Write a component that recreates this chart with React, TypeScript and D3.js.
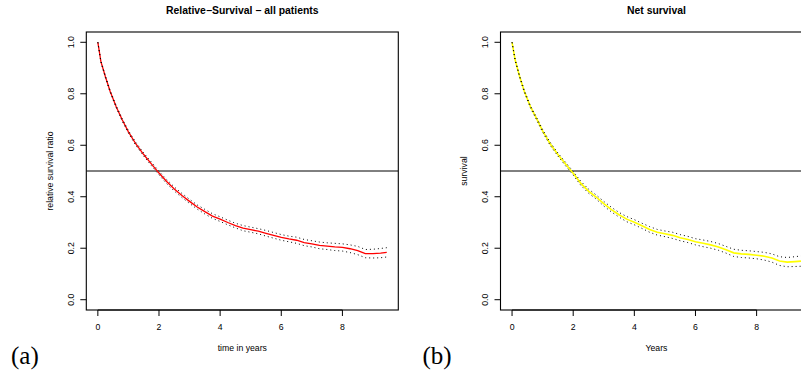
import React from "react";
import * as d3 from "d3";

const times = [0, 0.1, 0.25, 0.4, 0.6, 0.8, 1.0, 1.25, 1.5, 1.75, 2.0, 2.25, 2.5, 2.75, 3.0, 3.25, 3.5, 3.75, 4.0, 4.25, 4.5, 4.75, 5.0, 5.25, 5.5, 5.75, 6.0, 6.25, 6.5, 6.75, 7.0, 7.25, 7.5, 7.75, 8.0, 8.25, 8.5, 8.75, 9.0, 9.25, 9.45];

const relSurv = [1.0, 0.925, 0.865, 0.81, 0.75, 0.698, 0.652, 0.604, 0.564, 0.528, 0.492, 0.459, 0.43, 0.405, 0.382, 0.36, 0.342, 0.325, 0.313, 0.3, 0.288, 0.278, 0.272, 0.266, 0.258, 0.25, 0.242, 0.236, 0.231, 0.222, 0.217, 0.211, 0.208, 0.205, 0.203, 0.198, 0.191, 0.179, 0.179, 0.181, 0.184];
const relLower = [1.0, 0.922, 0.861, 0.806, 0.746, 0.693, 0.647, 0.598, 0.558, 0.521, 0.485, 0.451, 0.422, 0.397, 0.374, 0.352, 0.333, 0.316, 0.304, 0.291, 0.279, 0.268, 0.262, 0.256, 0.247, 0.239, 0.231, 0.225, 0.219, 0.21, 0.205, 0.198, 0.195, 0.191, 0.189, 0.183, 0.175, 0.163, 0.162, 0.163, 0.166];
const relUpper = [1.0, 0.928, 0.869, 0.814, 0.754, 0.703, 0.657, 0.61, 0.57, 0.535, 0.499, 0.467, 0.438, 0.413, 0.39, 0.368, 0.351, 0.334, 0.322, 0.309, 0.297, 0.288, 0.282, 0.276, 0.269, 0.261, 0.253, 0.247, 0.243, 0.234, 0.229, 0.224, 0.221, 0.219, 0.217, 0.213, 0.207, 0.195, 0.196, 0.199, 0.202];

const netSurv = [1.0, 0.932, 0.866, 0.81, 0.75, 0.704, 0.656, 0.605, 0.564, 0.527, 0.491, 0.452, 0.422, 0.399, 0.373, 0.35, 0.33, 0.313, 0.301, 0.287, 0.273, 0.262, 0.256, 0.25, 0.241, 0.234, 0.225, 0.219, 0.213, 0.205, 0.194, 0.182, 0.178, 0.176, 0.173, 0.169, 0.162, 0.15, 0.146, 0.148, 0.15];
const netLower = [1.0, 0.929, 0.862, 0.806, 0.746, 0.699, 0.651, 0.599, 0.558, 0.52, 0.484, 0.444, 0.414, 0.391, 0.364, 0.341, 0.321, 0.303, 0.291, 0.277, 0.262, 0.251, 0.245, 0.238, 0.229, 0.222, 0.213, 0.206, 0.2, 0.192, 0.181, 0.168, 0.164, 0.162, 0.159, 0.154, 0.146, 0.133, 0.128, 0.129, 0.13];
const netUpper = [1.0, 0.935, 0.87, 0.814, 0.754, 0.709, 0.661, 0.611, 0.57, 0.534, 0.498, 0.46, 0.43, 0.407, 0.382, 0.359, 0.339, 0.323, 0.311, 0.297, 0.284, 0.273, 0.267, 0.262, 0.253, 0.246, 0.237, 0.232, 0.226, 0.218, 0.207, 0.196, 0.192, 0.19, 0.187, 0.184, 0.178, 0.167, 0.164, 0.167, 0.17];

const xTicks = [0, 2, 4, 6, 8];
const yTicks = [0.0, 0.2, 0.4, 0.6, 0.8, 1.0];

const SANS = "'Liberation Sans', Arial, Helvetica, sans-serif";
const SERIF = "'Liberation Serif', 'Times New Roman', serif";

type PanelProps = {
  left: number;
  title: string;
  xlab: string;
  ylab: string;
  est: number[];
  lower: number[];
  upper: number[];
  color: string;
  lw: number;
};

function Panel({ left, title, xlab, ylab, est, lower, upper, color, lw }: PanelProps) {
  const top = 32;
  const bottom = 310;
  const width = 312;
  const right = left + width;
  const x = d3.scaleLinear().domain([-0.378, 9.828]).range([left, right]);
  const y = d3.scaleLinear().domain([-0.04, 1.04]).range([bottom, top]);
  const mk = (vals: number[]) =>
    d3
      .line<number>()
      .x((_, i) => x(times[i]))
      .y((v) => y(v))(vals) || "";
  const cx = (left + right) / 2;
  const cy = (top + bottom) / 2;
  const fs = 8.7;
  const clipId = "clip" + Math.round(left);
  return (
    <g>
      <defs>
        <clipPath id={clipId}>
          <rect x={left} y={top} width={width} height={bottom - top} />
        </clipPath>
      </defs>
      <g clipPath={`url(#${clipId})`}>
        <line x1={left} x2={right} y1={y(0.5)} y2={y(0.5)} stroke="#000" strokeWidth={1} />
        <path d={mk(est)} fill="none" stroke={color} strokeWidth={lw} />
        <path d={mk(lower)} fill="none" stroke="#000" strokeWidth={1} strokeDasharray="1,3" />
        <path d={mk(upper)} fill="none" stroke="#000" strokeWidth={1} strokeDasharray="1,3" />
      </g>
      <rect x={left} y={top} width={width} height={bottom - top} fill="none" stroke="#000" strokeWidth={1.1} />
      {/* x axis */}
      <line x1={x(xTicks[0])} x2={x(xTicks[xTicks.length - 1])} y1={bottom} y2={bottom} stroke="#000" strokeWidth={1.1} />
      {xTicks.map((t) => (
        <g key={"x" + t}>
          <line x1={x(t)} x2={x(t)} y1={bottom} y2={bottom + 6} stroke="#000" strokeWidth={1} />
          <text x={x(t)} y={330} textAnchor="middle" fontFamily={SANS} fontSize={fs} fill="#000">
            {t}
          </text>
        </g>
      ))}
      {/* y axis */}
      {yTicks.map((t) => (
        <g key={"y" + t}>
          <line x1={left - 6} x2={left} y1={y(t)} y2={y(t)} stroke="#000" strokeWidth={1} />
          <text
            transform={`translate(${left - 12.8},${y(t)}) rotate(-90)`}
            textAnchor="middle"
            fontFamily={SANS}
            fontSize={fs}
            fill="#000"
          >
            {t.toFixed(1)}
          </text>
        </g>
      ))}
      <text x={cx} y={14} textAnchor="middle" fontFamily={SANS} fontWeight="bold" fontSize={10.4} fill="#000">
        {title}
      </text>
      <text x={cx} y={351} textAnchor="middle" fontFamily={SANS} fontSize={fs} fill="#000">
        {xlab}
      </text>
      <text
        transform={`translate(${left - 33.3},${cy}) rotate(-90)`}
        textAnchor="middle"
        fontFamily={SANS}
        fontSize={fs}
        fill="#000"
      >
        {ylab}
      </text>
    </g>
  );
}

export default function App() {
  return (
    <svg
      width={801}
      height={376}
      viewBox="0 0 801 376"
      style={{ position: "absolute", left: 0, top: 0, background: "#fff", display: "block" }}
    >
      <rect x={0} y={0} width={801} height={376} fill="#fff" />
      <Panel
        left={86.3}
        title="Relative−Survival − all patients"
        xlab="time in years"
        ylab="relative survival ratio"
        est={relSurv}
        lower={relLower}
        upper={relUpper}
        color="#FF0000"
        lw={1.3}
      />
      <Panel
        left={500.5}
        title="Net survival"
        xlab="Years"
        ylab="survival"
        est={netSurv}
        lower={netLower}
        upper={netUpper}
        color="#FFFF00"
        lw={1.6}
      />
      <text x={11} y={364} fontFamily={SERIF} fontSize={25} fill="#000">
        (a)
      </text>
      <text x={422.5} y={364} fontFamily={SERIF} fontSize={25} fill="#000">
        (b)
      </text>
    </svg>
  );
}
